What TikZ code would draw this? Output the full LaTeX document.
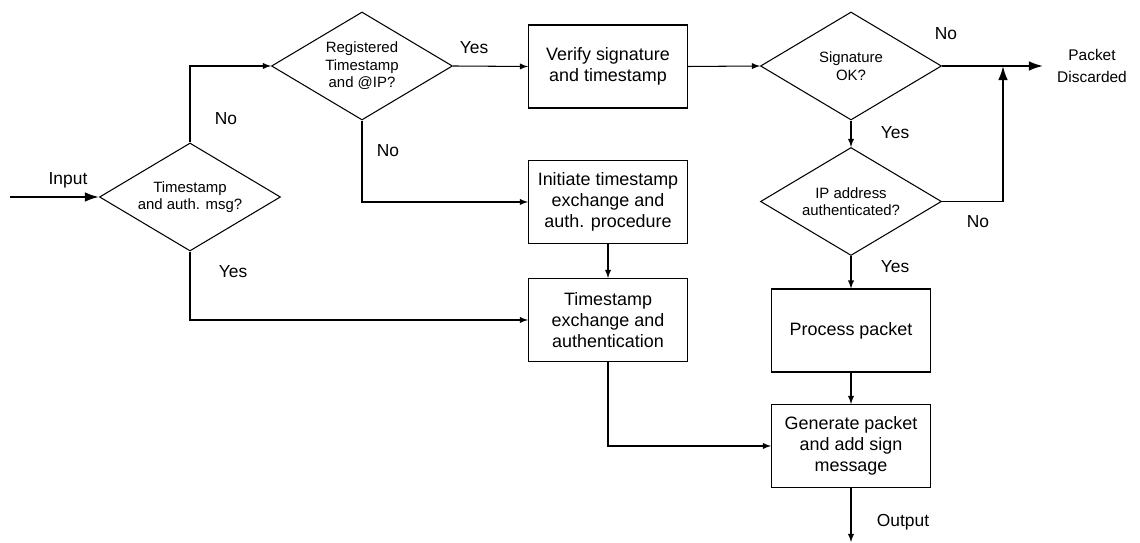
\documentclass[tikz,border=0pt]{standalone}
\usepackage{fontspec}
\setmainfont{Liberation Sans}
\usetikzlibrary{shapes.geometric}
\usetikzlibrary{arrows.meta}
\tikzset{>=latex}

\begin{document}
\begin{tikzpicture}[line width=.6pt,
    box/.style={draw, minimum width=3.18cm, minimum height=1.66cm, inner sep=0pt, align=center, font=\fontsize{10.2}{12.1}\selectfont},
    test/.style={draw, diamond, aspect=1.68, minimum width=3.62cm, minimum height=2.16cm, inner sep=0pt, align=center, font=\fontsize{8.5}{10}\selectfont},
    lbl/.style={font=\fontsize{9.9}{12}\selectfont},
    heavy/.style={line width=1.1pt, >={Latex[length=8pt, width=5.5pt]}}]
    \useasboundingbox (0, 0) rectangle (22.8, 10.86);
    % decisions and steps
    \node[test](auth) at (3.8, 6.92){Timestamp\\and auth. msg?};
    \node[test](reg) at (7.24, 9.54){Registered\\Timestamp\\and @IP?};
    \node[box](verify) at (12.16, 9.53){Verify signature\\and timestamp};
    \node[box](init) at (12.16, 6.82){Initiate timestamp\\exchange and\\auth. procedure};
    \node[box](exch) at (12.16, 4.46){Timestamp\\exchange and\\authentication};
    \node[test](sig) at (17.02, 9.54){Signature\\OK?};
    \node[test](ipok) at (17.02, 6.83){IP address\\authenticated?};
    \node[box](proc) at (17.02, 4.25){Process packet};
    \node[box](gen) at (17.02, 1.94){Generate packet\\and add sign\\message};
    % free ends
    \coordinate(in) at (0.2, 6.92);
    \coordinate(out) at (17.02, 0.02);
    \coordinate(drop) at (20.86, 9.54);
    \coordinate(join) at (20.06, 9.54);
    % connectors
    \draw[->, heavy](in)--(auth.west);
    \draw[->](auth.north)|-(reg.west);
    \draw[->](reg.east)--(verify.west);
    \draw[->](reg.south)|-(init.west);
    \draw[->](auth.south)|-(exch.west);
    \draw[->](verify.east)--(sig.west);
    \draw[->](init)--(exch);
    \draw[->](exch.south)|-(gen.west);
    \draw[->](sig)--(ipok);
    \draw[->](ipok)--(proc);
    \draw[->](proc)--(gen);
    \draw[->](gen)--(out);
    \draw[->, heavy](sig.east)--(drop);
    \draw[->, heavy](ipok.east)-|(join);
    % labels
    \node[lbl](inlbl) at (1.36, 7.26){Input};
    \node[lbl](no1) at (4.52, 8.48){No};
    \node[lbl](yes1) at (4.66, 5.42){Yes};
    \node[lbl](yes2) at (9.48, 9.9){Yes};
    \node[lbl](no2) at (7.76, 7.84){No};
    \node[lbl](no3) at (18.92, 10.18){No};
    \node[lbl](yes3) at (17.9, 8.2){Yes};
    \node[lbl](no4) at (19.56, 6.42){No};
    \node[lbl](yes4) at (17.9, 5.52){Yes};
    \node[lbl](outlbl) at (18.06, 0.42){Output};
    \node[align=center, font=\fontsize{8.8}{12}\selectfont](droplbl) at (21.84, 9.54){Packet\\Discarded};
\end{tikzpicture}
\end{document}
